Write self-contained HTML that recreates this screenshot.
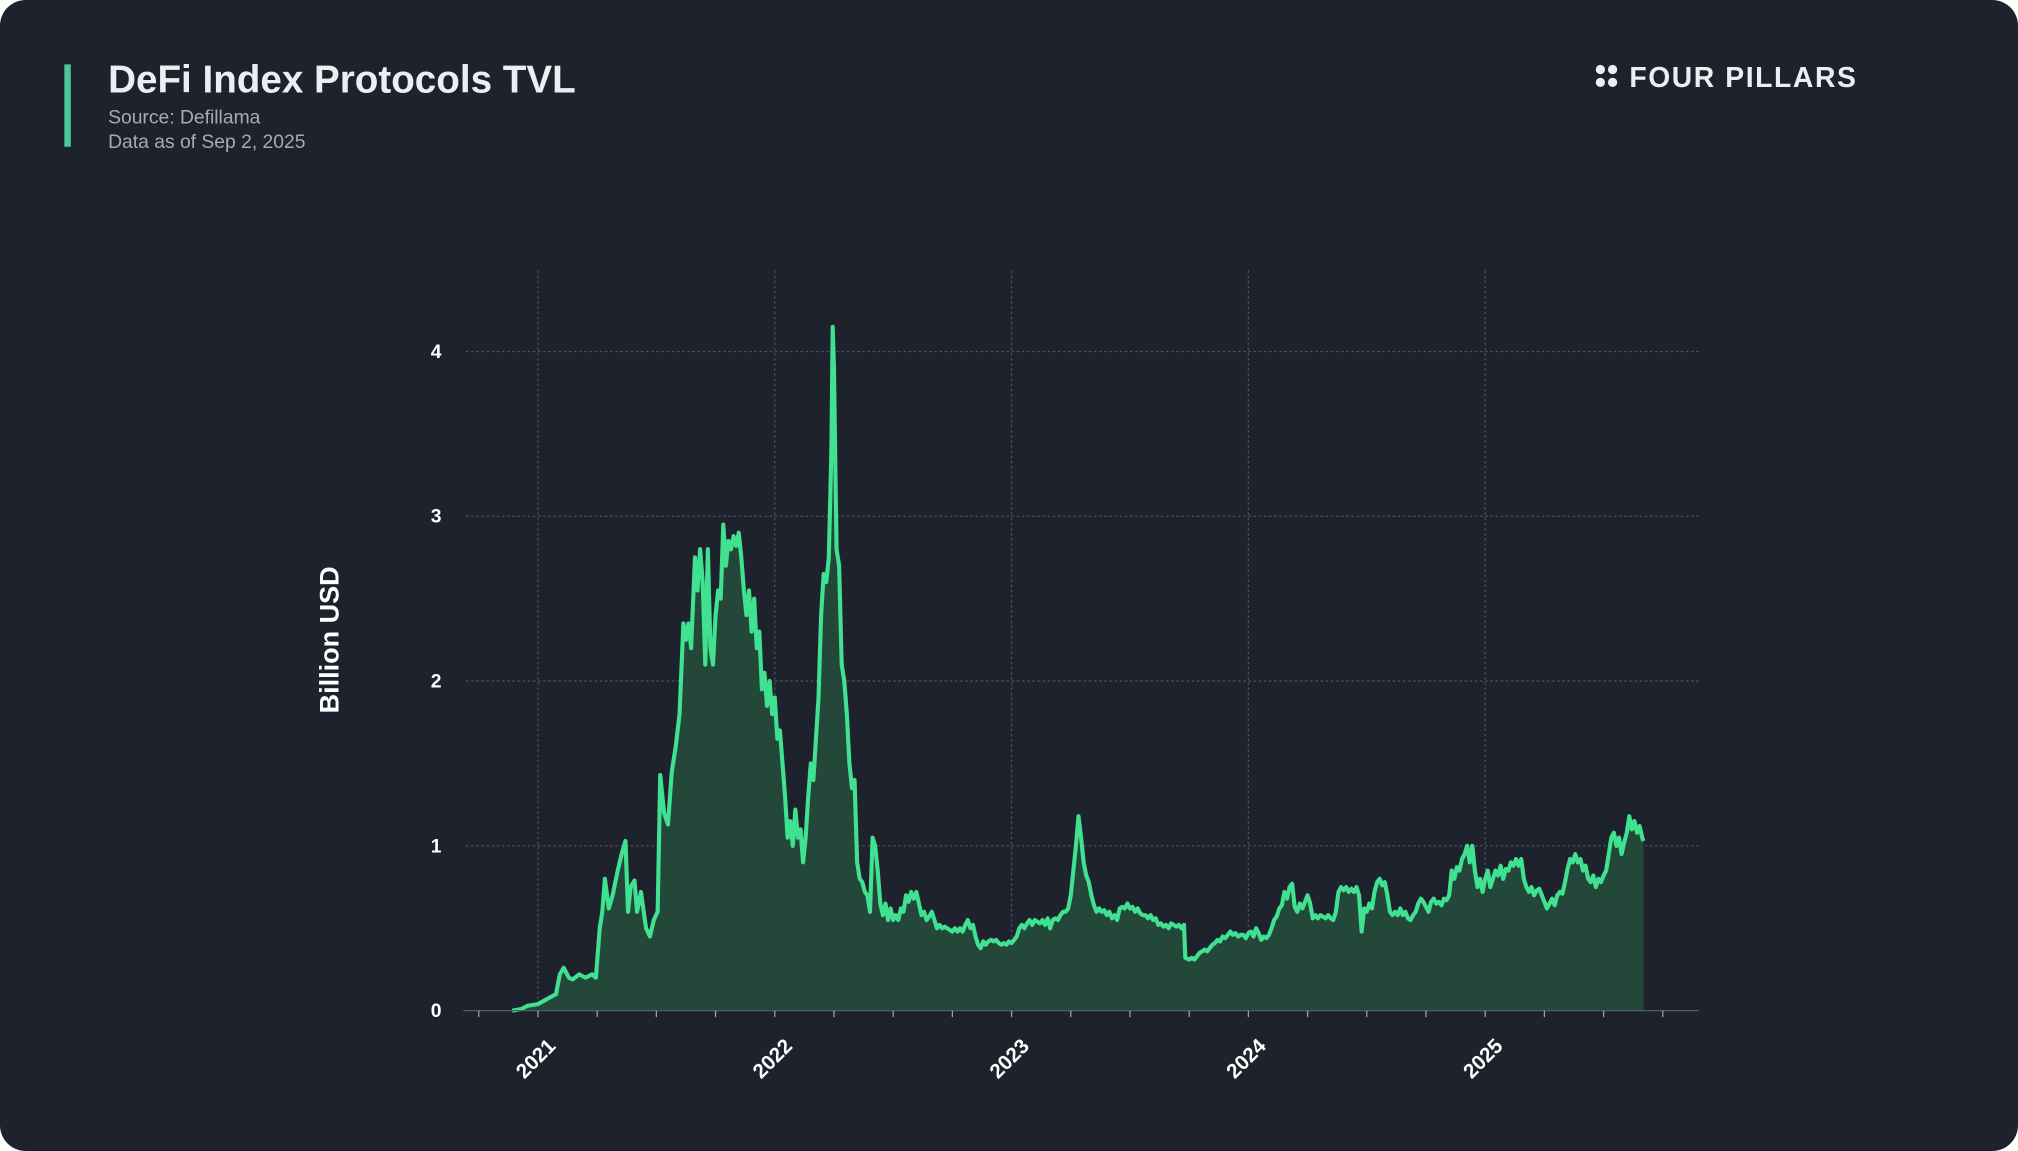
<!DOCTYPE html>
<html><head><meta charset="utf-8"><style>
html,body{margin:0;padding:0;background:#fff;}
svg{display:block;}
text{font-family:"Liberation Sans",sans-serif;}
</style></head><body>
<svg width="2018" height="1151" viewBox="0 0 1568 894" preserveAspectRatio="none" xmlns="http://www.w3.org/2000/svg">
<rect x="0" y="0" width="1568" height="894" rx="20" fill="#1e222c"/>
<rect x="50" y="50" width="5" height="64" fill="#4cc79a"/>
<text x="84" y="72" font-size="30" font-weight="bold" fill="#eceef2">DeFi Index Protocols TVL</text>
<text x="84" y="96" font-size="15" fill="#a6aab3">Source: Defillama</text>
<text x="84" y="115" font-size="15" fill="#a6aab3">Data as of Sep 2, 2025</text>
<g fill="#eceef2"><circle cx="1243.5" cy="54" r="3.6"/><circle cx="1253" cy="54" r="3.6"/><circle cx="1243.5" cy="64" r="3.6"/><circle cx="1253" cy="64" r="3.6"/></g>
<text x="1266" y="67.5" font-size="22" font-weight="bold" fill="#eceef2" textLength="176">FOUR PILLARS</text>
<g id="grid" stroke="#4a505d" stroke-width="1" stroke-dasharray="2,2"></g>
<path id="area" fill="#234739"/>
<path id="line" fill="none" stroke="#40e190" stroke-width="3.2" stroke-linejoin="round"/>
<line x1="360" y1="785" x2="1320" y2="785" stroke="#555b68" stroke-width="1"/>
<g id="ticks" stroke="#9aa0aa" stroke-width="1"></g>
<g font-size="15" font-weight="bold" fill="#ffffff" text-anchor="end">
<text x="343" y="790">0</text><text x="343" y="662">1</text><text x="343" y="534">2</text><text x="343" y="406">3</text><text x="343" y="278">4</text>
</g>
<text transform="translate(263,497) rotate(-90)" font-size="21" font-weight="bold" fill="#ffffff" text-anchor="middle">Billion USD</text>
<g font-size="16" font-weight="bold" fill="#ffffff" text-anchor="middle">
<text transform="translate(420,826) rotate(-45)">2021</text>
<text transform="translate(604,826) rotate(-45)">2022</text>
<text transform="translate(788,826) rotate(-45)">2023</text>
<text transform="translate(972,826) rotate(-45)">2024</text>
<text transform="translate(1156,826) rotate(-45)">2025</text>
</g>
</svg>
<script>
var ns="http://www.w3.org/2000/svg";
var g=document.getElementById('grid');
function ln(p,x1,y1,x2,y2){var l=document.createElementNS(ns,'line');l.setAttribute('x1',x1);l.setAttribute('y1',y1);l.setAttribute('x2',x2);l.setAttribute('y2',y2);p.appendChild(l);}
[657,529,401,273].forEach(function(y){ln(g,362,y,1320,y);});
[418,602,786,970,1154].forEach(function(x){ln(g,x,210,x,785);});
var t=document.getElementById('ticks');
for(var x=372;x<1300;x+=46){ln(t,x,785,x,790);}
var d=[398,0,405,.01,410,.03,418,.04,425,.07,432,.1,435,.22,438,.26,442,.2,445,.19,450,.22,455,.2,460,.22,463,.2,466,.5,468,.6,470,.8,473,.62,476,.7,480,.85,483,.95,486,1.03,488,.6,490,.75,493,.79,495,.6,498,.72,502,.5,505,.45,508,.55,511,.6,513,1.43,516,1.2,519,1.13,522,1.45,525,1.6,528,1.8,531,2.35,533,2.25,535,2.35,537,2.2,540,2.75,542,2.55,544,2.8,546,2.6,548,2.1,550,2.8,552,2.2,554,2.1,556,2.4,558,2.55,560,2.5,562,2.95,564,2.7,566,2.85,568,2.8,570,2.88,572,2.82,574,2.9,576,2.75,578,2.55,580,2.4,582,2.55,584,2.3,586,2.5,588,2.2,590,2.3,592,1.95,594,2.05,596,1.85,598,2,600,1.8,602,1.9,604,1.65,606,1.7,608,1.5,610,1.3,612,1.05,614,1.15,616,1,618,1.22,620,1.05,622,1.1,624,.9,626,1.05,628,1.3,630,1.5,632,1.4,634,1.65,636,1.9,638,2.4,640,2.65,642,2.6,644,2.75,646,3.4,647,4.15,648,3.9,650,2.8,652,2.7,654,2.1,656,2,658,1.8,660,1.5,662,1.35,664,1.4,666,.9,668,.8,670,.78,672,.72,674,.7,676,.6,678,1.05,680,1,682,.85,684,.65,686,.58,688,.65,690,.55,692,.62,694,.55,696,.58,698,.55,700,.62,702,.6,704,.7,706,.66,708,.72,710,.68,712,.72,714,.65,716,.58,718,.6,720,.55,722,.57,724,.6,726,.55,728,.5,730,.52,732,.5,734,.51,736,.5,738,.49,740,.48,742,.5,744,.48,746,.5,748,.48,750,.52,752,.55,754,.5,756,.52,758,.45,760,.4,762,.38,764,.42,766,.4,768,.42,770,.43,772,.42,774,.43,776,.41,778,.4,780,.41,782,.4,784,.42,786,.41,788,.43,790,.45,792,.5,794,.52,796,.5,798,.53,800,.55,802,.52,804,.55,806,.54,808,.53,810,.55,812,.52,814,.56,816,.5,818,.55,820,.56,822,.55,824,.58,826,.6,828,.6,830,.62,832,.7,834,.85,836,1,838,1.18,840,1.05,842,.9,844,.82,846,.78,848,.7,850,.64,852,.6,854,.62,856,.6,858,.61,860,.58,862,.6,864,.56,866,.58,868,.55,870,.62,872,.63,874,.62,876,.65,878,.62,880,.63,882,.6,884,.62,886,.59,888,.58,890,.58,892,.56,894,.58,896,.55,898,.56,900,.52,902,.53,904,.51,906,.52,908,.5,910,.53,912,.52,914,.51,916,.52,918,.5,920,.52,921,.32,924,.31,926,.32,928,.31,930,.33,932,.35,934,.36,936,.37,938,.36,940,.38,942,.4,944,.41,946,.43,948,.42,950,.45,952,.44,954,.46,956,.48,958,.46,960,.47,962,.45,964,.46,966,.46,968,.44,970,.47,972,.48,974,.45,976,.5,978,.47,980,.43,982,.45,984,.44,986,.46,988,.5,990,.55,992,.57,994,.62,996,.64,998,.72,1000,.68,1002,.75,1004,.77,1006,.63,1008,.6,1010,.65,1012,.62,1014,.66,1016,.7,1018,.65,1020,.56,1022,.58,1024,.56,1026,.58,1028,.57,1030,.56,1032,.58,1034,.56,1036,.55,1038,.6,1040,.72,1042,.75,1044,.73,1046,.75,1048,.72,1050,.74,1052,.72,1054,.75,1056,.7,1058,.48,1060,.62,1062,.6,1064,.65,1066,.62,1068,.72,1070,.78,1072,.8,1074,.76,1076,.78,1078,.7,1080,.6,1082,.58,1084,.6,1086,.58,1088,.62,1090,.58,1092,.6,1094,.56,1096,.55,1098,.58,1100,.6,1102,.65,1104,.68,1106,.66,1108,.63,1110,.6,1112,.66,1114,.68,1116,.65,1118,.66,1120,.64,1122,.68,1124,.67,1126,.7,1128,.85,1130,.8,1132,.87,1134,.85,1136,.92,1138,.95,1140,1,1142,.9,1144,1,1146,.85,1148,.75,1150,.8,1152,.72,1154,.8,1156,.85,1158,.75,1160,.8,1162,.85,1164,.82,1166,.88,1168,.8,1170,.86,1172,.85,1174,.9,1176,.88,1178,.92,1180,.88,1182,.92,1184,.8,1186,.75,1188,.72,1190,.75,1192,.7,1194,.73,1196,.74,1198,.7,1200,.66,1202,.62,1204,.65,1206,.68,1208,.64,1210,.7,1212,.72,1214,.71,1216,.78,1218,.86,1220,.92,1222,.9,1224,.95,1226,.9,1228,.92,1230,.85,1232,.88,1234,.8,1236,.78,1238,.82,1240,.75,1242,.8,1244,.78,1246,.82,1248,.85,1250,.95,1252,1.05,1254,1.08,1256,1,1258,1.05,1260,.95,1262,1.02,1264,1.08,1266,1.18,1268,1.1,1270,1.15,1272,1.08,1274,1.12,1276,1.05,1277,1.03];
var s="";
for(var i=0;i<d.length;i+=2){s+=(i?"L":"M")+d[i]+","+(785-d[i+1]*128).toFixed(1);}
document.getElementById('line').setAttribute('d',s);
document.getElementById('area').setAttribute('d',s+"L1277,785L398,785Z");
</script>
</body></html>
